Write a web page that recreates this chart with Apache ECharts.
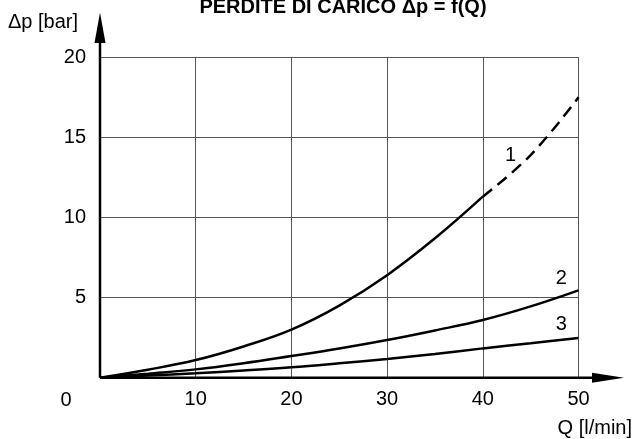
<!DOCTYPE html>
<html>
<head>
<meta charset="utf-8">
<script src="https://cdn.jsdelivr.net/npm/echarts@6/dist/echarts.min.js"></script>
<style>
html,body{margin:0;padding:0;background:#fff;}
#c{width:636px;height:439px;}
</style>
</head>
<body>
<div id="c"></div>
<script>
var flowQ = [0, 5, 10, 15, 20, 25, 30, 35, 40, 45, 50];
var curve1Solid = [0, 0.5, 1.1, 1.95, 3.0, 4.5, 6.4, 8.7, 11.3, null, null];
var curve1Dashed = [null, null, null, null, null, null, null, null, 11.3, 13.9, 17.5];
var curve2 = [0, 0.25, 0.52, 0.9, 1.35, 1.82, 2.35, 2.95, 3.6, 4.45, 5.45];
var curve3 = [0, 0.13, 0.28, 0.45, 0.65, 0.9, 1.17, 1.48, 1.83, 2.15, 2.48];
var curveNames = ['1', '2', '3'];
var curveLabelPos = [[42.9, 13.9], [48.2, 6.2], [48.2, 3.3]];
var xTicks = [0, 10, 20, 30, 40, 50];
var yTicks = [0, 5, 10, 15, 20];
var titleText = 'PERDITE DI CARICO \u0394p = f(Q)';
var yName = '\u0394p [bar]';
var xName = 'Q [l/min]';

function pairs(vals) {
  var out = [];
  for (var i = 0; i < flowQ.length; i++) {
    if (vals[i] !== null) out.push([flowQ[i], vals[i]]);
  }
  return out;
}

var FONT = '"Liberation Sans", Arial, sans-serif';
var FS = 20;
var chart = echarts.init(document.getElementById('c'));
var lineStyleBase = {color: '#000', width: 2.5};

chart.setOption({
  animation: false,
  backgroundColor: '#fff',
  grid: {left: 100, right: 57.5, top: 57.3, bottom: 61.3},
  xAxis: {
    type: 'value', min: xTicks[0], max: xTicks[xTicks.length - 1], interval: 10,
    axisLine: {show: false}, axisTick: {show: false},
    splitLine: {show: true, lineStyle: {color: '#555', width: 1}},
    axisLabel: {
      color: '#000', fontSize: FS, fontFamily: FONT, margin: 12,
      formatter: function (v) { return v === 0 ? '' : String(v); }
    }
  },
  yAxis: {
    type: 'value', min: yTicks[0], max: yTicks[yTicks.length - 1], interval: 5,
    axisLine: {show: false}, axisTick: {show: false},
    splitLine: {show: true, lineStyle: {color: '#555', width: 1}},
    axisLabel: {
      color: '#000', fontSize: FS, fontFamily: FONT, margin: 14,
      formatter: function (v) { return v === 0 ? '' : String(v); }
    }
  },
  series: [
    {type: 'line', name: '1', data: pairs(curve1Solid), smooth: 0.4, showSymbol: false, lineStyle: lineStyleBase, z: 5},
    {type: 'line', name: '1d', data: pairs(curve1Dashed), smooth: 0.4, showSymbol: false,
      lineStyle: {color: '#000', width: 2.5, type: [12, 7]}, z: 5},
    {type: 'line', name: '2', data: pairs(curve2), smooth: 0.4, showSymbol: false, lineStyle: lineStyleBase, z: 5},
    {type: 'line', name: '3', data: pairs(curve3), smooth: 0.4, showSymbol: false, lineStyle: lineStyleBase, z: 5}
  ]
});

var o = chart.convertToPixel({gridIndex: 0}, [0, 0]);
var gfx = [];
// axes with arrows
gfx.push({type: 'line', shape: {x1: o[0], y1: o[1], x2: 596, y2: o[1]}, style: {stroke: '#000', lineWidth: 2.5}, z: 10});
gfx.push({type: 'polygon', shape: {points: [[592, o[1] - 5], [624, o[1]], [592, o[1] + 5]]}, style: {fill: '#000'}, z: 10});
gfx.push({type: 'line', shape: {x1: o[0], y1: o[1], x2: o[0], y2: 40}, style: {stroke: '#000', lineWidth: 2.5}, z: 10});
gfx.push({type: 'polygon', shape: {points: [[o[0] - 5.5, 43], [o[0], 12.5], [o[0] + 5.5, 43]]}, style: {fill: '#000'}, z: 10});
// curve labels
for (var i = 0; i < curveNames.length; i++) {
  var p = chart.convertToPixel({gridIndex: 0}, curveLabelPos[i]);
  gfx.push({type: 'text', x: p[0], y: p[1], style: {text: curveNames[i], fill: '#000', font: FS + 'px ' + FONT, textAlign: 'center', textVerticalAlign: 'middle'}, z: 10});
}
// origin label
gfx.push({type: 'text', x: 66, y: 400, style: {text: String(xTicks[0]), fill: '#000', font: FS + 'px ' + FONT, textAlign: 'center', textVerticalAlign: 'middle'}});
// axis names
gfx.push({type: 'text', x: 8, y: 22, style: {text: yName, fill: '#000', font: FS + 'px ' + FONT, textAlign: 'left', textVerticalAlign: 'middle'}});
gfx.push({type: 'text', x: 632, y: 428, style: {text: xName, fill: '#000', font: FS + 'px ' + FONT, textAlign: 'right', textVerticalAlign: 'middle'}});
// title
gfx.push({type: 'text', x: 343, y: 17, style: {text: titleText, fill: '#000', font: 'bold ' + FS + 'px ' + FONT, textAlign: 'center', textVerticalAlign: 'bottom'}});
chart.setOption({graphic: gfx});
</script>
</body>
</html>
